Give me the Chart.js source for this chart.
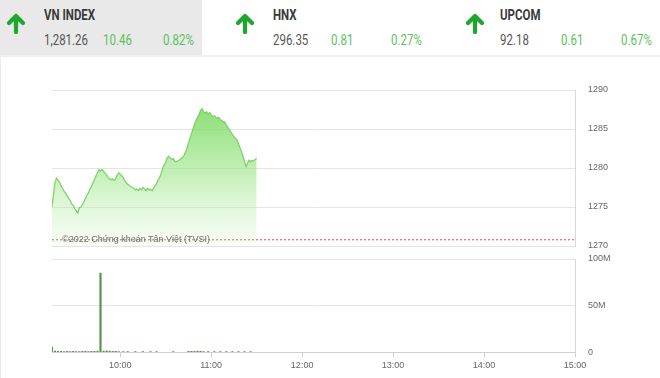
<!DOCTYPE html>
<html>
<head>
<meta charset="utf-8">
<script src="https://cdn.jsdelivr.net/npm/chart.js@4"></script>
<style>
  body { margin: 0; width: 660px; height: 378px; background: #fff; overflow: hidden; font-family: Roboto, 'Liberation Sans', sans-serif; }
  #header { position: absolute; left: 0; top: 0; width: 660px; height: 55px; border-bottom: 2px solid #f0f0f0; }
  #tileVN { position: absolute; left: 0; top: 0; width: 202px; height: 55px; background: #e9e9e9; }
  .t { position: absolute; font-size: 14px; line-height: 14px; white-space: nowrap; transform: scaleX(0.82); transform-origin: left top; }
  .name { font-weight: bold; color: #3a3a3a; }
  .val { color: #555; }
  .chg { color: #5cbf5c; }
  .arrow { position: absolute; top: 12px; width: 18px; height: 22px; }
  #frame { position: absolute; left: 0; top: 57px; width: 1px; height: 321px; background: #ececec; }
  #priceWrap { position: absolute; left: 0; top: 80px; width: 660px; height: 176px; }
  #volWrap { position: absolute; left: 0; top: 250px; width: 660px; height: 128px; }
  #credit { position: absolute; left: 62px; top: 234px; font-size: 9px; color: #6f6f6f; font-family: 'Liberation Sans', Arial, sans-serif; }
</style>
</head>
<body>
<div id="header">
  <div id="tileVN"></div>
</div>
<div id="frame"></div>
<div id="priceWrap"><canvas id="priceChart"></canvas></div>
<div id="volWrap"><canvas id="volChart"></canvas></div>
<div id="credit">©2022 Chứng khoán Tân Việt (TVSI)</div>
<script>
const indices = ['VN INDEX', 'HNX', 'UPCOM'];
const indexValues = ['1,281.26', '296.35', '92.18'];
const indexChanges = ['10.46', '0.81', '0.61'];
const indexPercents = ['0.82%', '0.27%', '0.67%'];

const hourTicks = [600, 660, 720, 780, 840, 900];
const refPrice = 1270.8;

const priceTimes = [
  '9:15','9:16','9:17','9:18','9:19','9:20','9:21','9:22','9:23','9:24','9:25','9:26','9:27','9:28','9:29',
  '9:30','9:31','9:32','9:33','9:34','9:35','9:36','9:37','9:38','9:39','9:40','9:41','9:42','9:43','9:44',
  '9:45','9:46','9:47','9:48','9:49','9:50','9:51','9:52','9:53','9:54','9:55','9:56','9:57','9:58','9:59',
  '10:00','10:01','10:02','10:03','10:04','10:05','10:06','10:07','10:08','10:09','10:10','10:11','10:12','10:13','10:14',
  '10:15','10:16','10:17','10:18','10:19','10:20','10:21','10:22','10:23','10:24','10:25','10:26','10:27','10:28','10:29',
  '10:30','10:31','10:32','10:33','10:34','10:35','10:36','10:37','10:38','10:39','10:40','10:41','10:42','10:43','10:44',
  '10:45','10:46','10:47','10:48','10:49','10:50','10:51','10:52','10:53','10:54','10:55','10:56','10:57','10:58','10:59',
  '11:00','11:01','11:02','11:03','11:04','11:05','11:06','11:07','11:08','11:09','11:10','11:11','11:12','11:13','11:14',
  '11:15','11:16','11:17','11:18','11:19','11:20','11:21','11:22','11:23','11:24','11:25','11:26','11:27','11:28','11:29','11:30'
];
const priceValues = [
  1275.0,1276.6,1278.2,1278.7,1278.4,1278.2,1277.7,1277.4,1277.0,1276.8,1276.4,1276.1,1275.8,1275.4,1275.2,
  1274.8,1274.5,1274.2,1274.9,1275.0,1275.3,1275.6,1276.1,1276.5,1276.8,1277.3,1277.6,1278.1,1278.5,1279.0,
  1279.4,1279.8,1279.6,1279.8,1279.6,1279.3,1279.1,1278.8,1278.6,1278.5,1278.6,1278.4,1278.6,1279.1,1279.4,
  1279.2,1279.0,1278.8,1278.4,1278.1,1277.9,1277.8,1277.6,1277.5,1277.4,1277.2,1277.3,1277.1,1277.4,1277.2,
  1277.5,1277.3,1277.1,1277.4,1277.2,1277.3,1277.1,1277.4,1277.7,1278.0,1278.5,1278.8,1279.3,1279.9,1280.4,
  1280.7,1281.3,1281.5,1281.3,1281.1,1281.2,1280.9,1280.8,1280.9,1281.0,1281.2,1281.3,1281.6,1282.0,1282.5,
  1283.2,1283.8,1284.4,1285.0,1285.6,1286.1,1286.5,1286.9,1287.4,1287.6,1287.2,1287.0,1287.2,1286.9,1287.1,
  1286.8,1286.6,1286.7,1286.5,1286.4,1286.5,1286.2,1286.1,1285.9,1285.9,1285.5,1285.2,1284.9,1284.6,1284.3,
  1284.0,1283.8,1283.6,1283.1,1282.6,1282.1,1281.5,1280.8,1280.2,1280.6,1281.0,1280.8,1281.0,1280.9,1281.1,1281.26
];

const volTimes = [
  '9:15','9:17','9:19','9:21','9:23','9:25','9:27','9:29','9:31','9:33','9:35','9:37','9:39','9:41','9:43',
  '9:45','9:47','9:49','9:51','9:53','9:55','9:57','9:59','10:02','10:05','10:10','10:15','10:20','10:24','10:35',
  '10:45','10:47','10:49','10:51','10:53','10:55','10:58','11:02','11:06','11:10','11:14','11:18','11:22','11:26'
];
const volValues = [
  5.5,1.2,0.8,1.0,0.6,0.9,0.7,0.8,0.6,0.7,0.9,0.8,0.7,0.9,1.0,
  1.1,85,1.2,1.5,1.3,1.0,0.8,0.7,0.6,0.5,0.5,0.6,0.5,0.5,0.6,
  0.8,1.0,0.9,1.1,0.8,0.7,0.6,0.5,0.6,0.5,0.5,0.6,0.5,0.5
];

// header tiles
const header = document.getElementById('header');
const arrowX = [7, 236, 466];
const colX = [[44, 103, 163], [273, 331, 391], [500, 561, 621]];
indices.forEach((name, i) => {
    const svg = `<svg class="arrow" style="left:${arrowX[i]}px" viewBox="0 0 18 22"><path d="M9 20 V4 M2 11 L9 4 L16 11" fill="none" stroke="#1ea82b" stroke-width="4.2" stroke-linecap="round" stroke-linejoin="round"/></svg>`;
    header.insertAdjacentHTML('beforeend', svg +
        `<div class="t name" style="left:${colX[i][0]}px;top:8px">${name}</div>` +
        `<div class="t val" style="left:${colX[i][0]}px;top:33px">${indexValues[i]}</div>` +
        `<div class="t chg" style="left:${colX[i][1]}px;top:33px">${indexChanges[i]}</div>` +
        `<div class="t chg" style="left:${colX[i][2]}px;top:33px">${indexPercents[i]}</div>`);
});

const toMin = s => { const [h, m] = s.split(':').map(Number); return h * 60 + m; };
const fmtHour = v => Math.floor(v / 60) + ':' + String(v % 60).padStart(2, '0');

Chart.defaults.font.family = "'Liberation Sans', Arial, sans-serif";
Chart.defaults.font.size = 9;
Chart.defaults.color = '#666';

const xAxisBase = {
    type: 'linear', min: 555, max: 900, offset: false,
    afterBuildTicks: axis => { axis.ticks = hourTicks.map(v => ({ value: v })); }
};
const rightAxisFit = axis => { axis.width = 85; };
const rightGrid = { color: '#e4e4e4', drawTicks: true, tickLength: 13, tickColor: 'rgba(0,0,0,0)' };

new Chart(document.getElementById('priceChart'), {
    type: 'line',
    data: {
        datasets: [
            {
                data: priceTimes.map((t, i) => ({ x: toMin(t), y: priceValues[i] })),
                borderColor: '#7fd36a', borderWidth: 1.3, pointRadius: 0, tension: 0,
                fill: 'start',
                backgroundColor: ctx => {
                    const { chart } = ctx;
                    const area = chart.chartArea;
                    if (!area) return 'rgba(140,225,120,0.5)';
                    const g = chart.ctx.createLinearGradient(0, area.top + 15, 0, area.bottom);
                    g.addColorStop(0, 'rgba(128,220,105,0.95)');
                    g.addColorStop(0.5, 'rgba(160,230,140,0.6)');
                    g.addColorStop(1, 'rgba(200,242,190,0.15)');
                    return g;
                }
            },
            {
                data: [{ x: 555, y: refPrice }, { x: 900, y: refPrice }],
                borderColor: '#e04848', borderWidth: 1, borderDash: [2, 2], pointRadius: 0, fill: false
            }
        ]
    },
    options: {
        responsive: true, maintainAspectRatio: false, animation: false,
        layout: { padding: { left: 52, top: 10, bottom: 10, right: 0 } },
        plugins: { legend: { display: false }, tooltip: { enabled: false } },
        scales: {
            x: { ...xAxisBase, display: false },
            y: {
                position: 'right', min: 1270, max: 1290,
                afterFit: rightAxisFit,
                ticks: { stepSize: 5, padding: 0, crossAlign: 'near', callback: v => String(v) },
                grid: rightGrid,
                border: { display: true, color: '#d8d8d8' }
            }
        }
    }
});

new Chart(document.getElementById('volChart'), {
    type: 'bar',
    data: {
        datasets: [{
            data: volTimes.map((t, i) => ({ x: toMin(t), y: volValues[i] })),
            backgroundColor: '#5b8f52', barThickness: 1.5
        }]
    },
    options: {
        responsive: true, maintainAspectRatio: false, animation: false,
        layout: { padding: { left: 52, top: 9, bottom: 4, right: 0 } },
        plugins: { legend: { display: false }, tooltip: { enabled: false } },
        scales: {
            x: {
                ...xAxisBase,
                ticks: { callback: v => fmtHour(v), padding: 3, maxRotation: 0, autoSkip: false },
                grid: { offset: false, drawOnChartArea: false, drawTicks: true, tickLength: 5, color: '#d0d0d0' },
                border: { display: true, color: '#d0d0d0' }
            },
            y: {
                position: 'right', min: 0, max: 100,
                afterFit: rightAxisFit,
                ticks: { stepSize: 50, padding: 0, crossAlign: 'near', callback: v => v === 0 ? '0' : v + 'M' },
                grid: rightGrid,
                border: { display: true, color: '#d8d8d8' }
            }
        }
    }
});
</script>
</body>
</html>
